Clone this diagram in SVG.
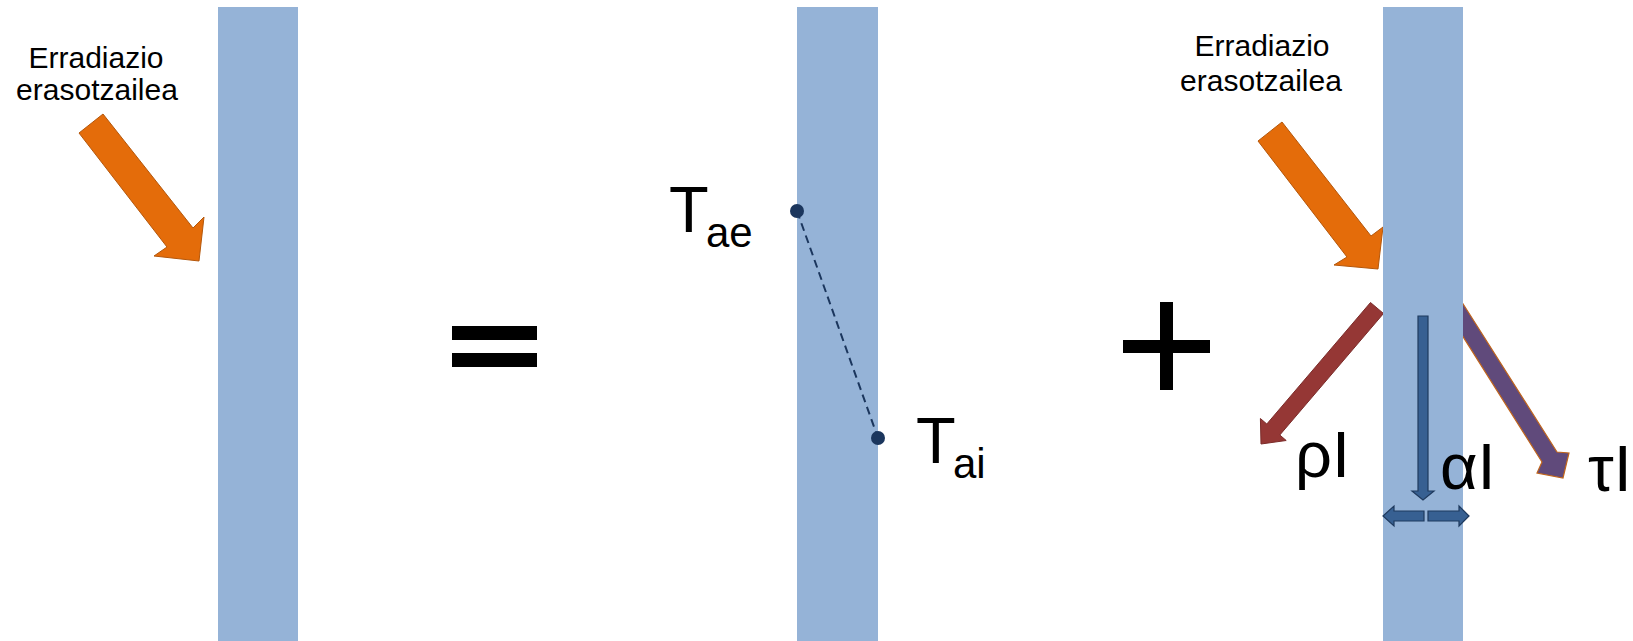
<svg xmlns="http://www.w3.org/2000/svg" width="1633" height="641" viewBox="0 0 1633 641">
<style>
.wall{fill:#95b3d7;}
.lbl{font-family:"Liberation Sans",Arial,sans-serif;fill:#000;}
.small{font-size:30px;text-anchor:middle;}
.big{font-size:65px;}
.sub{font-size:42px;}
.orange{fill:#e46c0a;stroke:#b4570b;stroke-width:1;}
.red{fill:#953735;stroke:#7b2c2a;stroke-width:1;}
.purple{fill:#604a7b;stroke:#c0651c;stroke-width:1.2;}
.blue{fill:#376092;stroke:#1f3a5e;stroke-width:1.2;}
.op{fill:#000;}
</style>
<rect width="1633" height="641" fill="#fff"/>

<g id="connectors">
  <polygon id="arrow-in-1" class="orange" points="79,133 167,247 154,256 199,261 204,217 193,228 103,114"/>
  <polygon id="arrow-in-2" class="orange" points="1258,141 1347,257 1334,265 1378,269 1383,227 1371,236 1282,122"/>
  <polygon id="arrow-rho" class="red" points="1370.5,302.5 1266.8,424 1260.4,418.5 1261,444 1286.2,440.5 1279.8,435 1383.5,313.5"/>
  <polygon id="arrow-tau" class="purple" points="1456,292.7 1557,452 1569,453 1563,478 1537,473 1542,462 1441.2,302.1"/>
</g>

<g id="wall-1"><rect class="wall" x="218" y="7" width="80" height="634"/></g>
<g id="wall-2"><rect class="wall" x="797" y="7" width="81" height="634"/></g>
<g id="wall-3"><rect class="wall" x="1383" y="7" width="80" height="634"/></g>

<g id="label-1">
  <text class="lbl small" x="96" y="68">Erradiazio</text>
  <text class="lbl small" x="97" y="100">erasotzailea</text>
</g>
<g id="label-2">
  <text class="lbl small" x="1262" y="56">Erradiazio</text>
  <text class="lbl small" x="1261" y="91">erasotzailea</text>
</g>

<g id="equals">
  <rect class="op" x="452" y="326" width="85" height="14"/>
  <rect class="op" x="452" y="353" width="85" height="14"/>
</g>
<g id="plus">
  <rect class="op" x="1123" y="340" width="87" height="13"/>
  <rect class="op" x="1160" y="302" width="13" height="88"/>
</g>

<g id="temperature-profile">
  <line x1="797" y1="211" x2="878" y2="438" stroke="#1b365d" stroke-width="2" stroke-dasharray="8,5"/>
  <circle cx="797" cy="211" r="7" fill="#1b365d"/>
  <circle cx="878" cy="438" r="7" fill="#1b365d"/>
</g>
<g id="label-tae">
  <text class="lbl big" x="669" y="232">T</text>
  <text class="lbl sub" x="706" y="247">ae</text>
</g>
<g id="label-tai">
  <text class="lbl big" x="916" y="463">T</text>
  <text class="lbl sub" x="953" y="478">ai</text>
</g>

<g id="absorption">
  <polygon class="blue" points="1418,316 1428,316 1428,491 1434,491 1423,500 1412,491 1418,491"/>
  <polygon class="blue" points="1383,516 1394,506 1394,511 1424,511 1424,521 1394,521 1394,526"/>
  <polygon class="blue" points="1469,516 1459,506 1459,511 1428,511 1428,521 1459,521 1459,526"/>
</g>

<g id="label-rho"><text class="lbl big" x="1295" y="477">ρI</text></g>
<g id="label-alpha"><text class="lbl big" x="1440" y="489">αI</text></g>
<g id="label-tau"><text class="lbl big" x="1588" y="491">τI</text></g>
</svg>
